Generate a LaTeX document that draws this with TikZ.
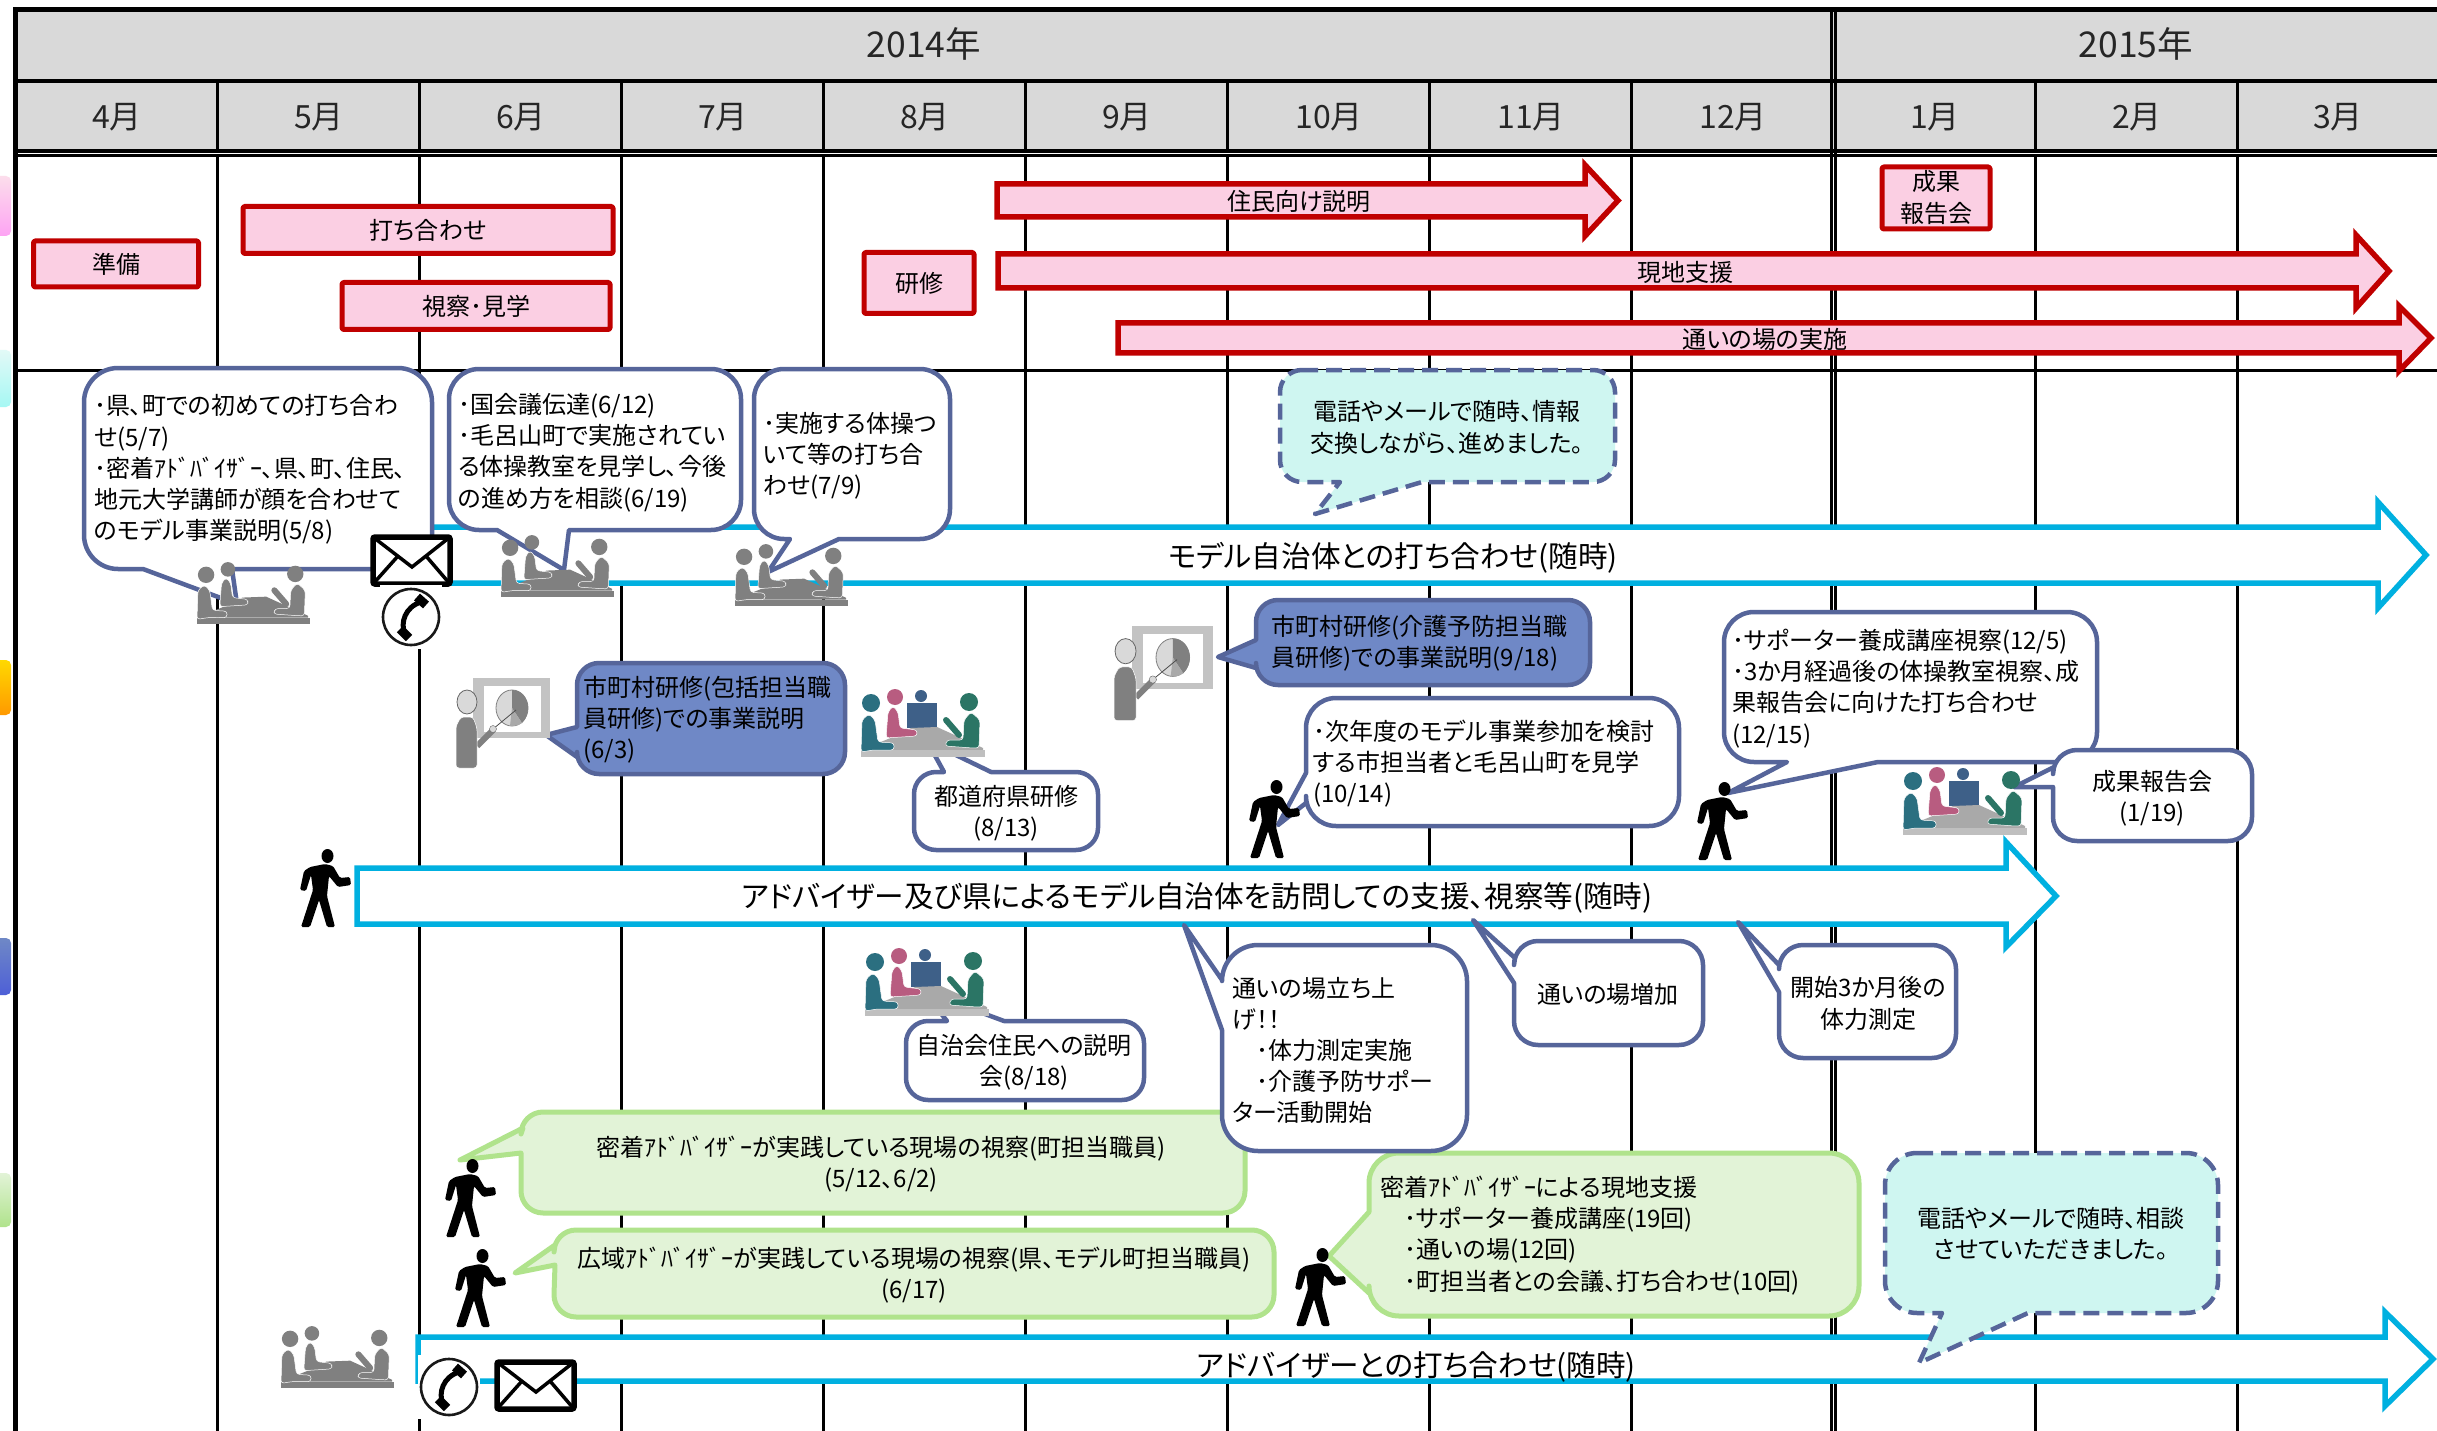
\documentclass[tikz,border=0pt]{standalone}
\usepackage{fontspec}
\setmainfont[RawFeature=+palt]{Noto Sans CJK JP}
\definecolor{crred}{HTML}{C00000}
\definecolor{crpink}{HTML}{FBCFE3}
\definecolor{crcyan}{HTML}{00B0E0}
\definecolor{crblue}{HTML}{56659A}
\definecolor{crfill}{HTML}{6F88C6}
\definecolor{crmint}{HTML}{CFF6F1}
\definecolor{crgreen}{HTML}{B0E38C}
\definecolor{crlime}{HTML}{E2F3D7}
\definecolor{crhead}{HTML}{D9D9D9}
\definecolor{crtext}{HTML}{262626}
\definecolor{mteal}{HTML}{2B6F80}
\definecolor{mpink}{HTML}{B85C80}
\definecolor{mblue}{HTML}{3E6088}
\definecolor{mgreen}{HTML}{2B7565}
\definecolor{mtable}{HTML}{A9A9A9}
\definecolor{mband}{HTML}{BFBFBF}
\definecolor{mgray}{HTML}{808080}
\tikzset{
 gridline/.style={black,line width=3pt},
 headline/.style={black,line width=3.5pt},
 pinkbox/.style={draw=crred,fill=crpink,line width=5pt,line join=round,rounded corners=1.5pt,inner sep=0pt,font=\fontsize{24}{32}\selectfont,text=black,align=center},
 cyanarrow/.style={draw=crcyan,fill=white,line width=5.5pt,line join=miter},
 redarrow/.style={draw=crred,fill=crpink,line width=5.5pt,line join=miter},
 bbox/.style={draw=crblue,fill=white,line width=4.5pt,line join=round},
 fbox/.style={draw=crblue,fill=crfill,line width=4.5pt,line join=round},
 dbox/.style={draw=crblue,fill=crmint,line width=4.5pt,line join=round,dash pattern=on 16pt off 8pt},
 gbox/.style={draw=crgreen,fill=crlime,line width=5pt,line join=round},
 yeartext/.style={font=\fontsize{35.5}{38}\selectfont,text=crtext,inner sep=0pt},
 monthtext/.style={font=\fontsize{32}{34}\selectfont,text=crtext,inner sep=0pt},
 bartext/.style={font=\fontsize{24}{32}\selectfont,text=black,inner sep=0pt,align=center,yshift=-1.5pt},
 arrowtext/.style={font=\fontsize{29.6}{31}\selectfont,text=black,inner sep=0pt,yshift=-1.5pt},
 ltext/.style={font=\fontsize{24}{31.2}\selectfont,text=black,inner sep=0pt,align=left,anchor=west,yshift=-1.5pt},
 ctext/.style={font=\fontsize{24}{31.2}\selectfont,text=black,inner sep=0pt,align=center,yshift=-1.5pt},
 tabshape/.style={rounded corners=5pt,draw=none},
}
\newcommand{\Callout}[9]{%
 \pgfmathsetmacro\xA{#2+\CR}\pgfmathsetmacro\xB{#4-\CR}%
 \pgfmathsetmacro\yA{#3+\CR}\pgfmathsetmacro\yB{#5-\CR}%
 \pgfmathsetmacro\xAc{#2+0.45*\CR}\pgfmathsetmacro\xBc{#4-0.45*\CR}%
 \pgfmathsetmacro\yAc{#3+0.45*\CR}\pgfmathsetmacro\yBc{#5-0.45*\CR}%
 \draw[#1] (\xA,#3) #6 -- (\xB,#3) .. controls (\xBc,#3) and (#4,\yAc) .. (#4,\yA) #7
  -- (#4,\yB) .. controls (#4,\yBc) and (\xBc,#5) .. (\xB,#5) #8
  -- (\xA,#5) .. controls (\xAc,#5) and (#2,\yBc) .. (#2,\yB) #9
  -- (#2,\yA) .. controls (#2,\yAc) and (\xAc,#3) .. (\xA,#3) -- cycle;}
% style, x0, x tip, x base, body top, body bottom, head top, head bottom
\newcommand{\BlockArrow}[8]{%
 \pgfmathsetmacro\yM{(#5+#6)/2}%
 \draw[#1] (#2,#5) -- (#4,#5) -- (#4,#7) -- (#3,\yM) -- (#4,#8) -- (#4,#6) -- (#2,#6) -- cycle;}
\newcommand{\Walker}[2]{%
 \begin{scope}[shift={(#1,#2)}]
 \fill[black] (27.5,7) ellipse [x radius=6,y radius=7];
 \fill[black,rounded corners=1.5pt] (10,18) -- (25,15) -- (33,17) -- (40,29) -- (50,28) -- (51,36) -- (38,38) -- (29,27)
  -- (27,47) -- (35,78) -- (27,78) -- (19,51) -- (10,78) -- (1,78) -- (13,41) -- (11,26) -- (6,42) -- (0,41) -- (4,22) -- cycle;
 \end{scope}}
% x, y, scale, left, pink, mid, right, table, band
\newcommand{\Meeting}[9]{%
 \begin{scope}[shift={(#1,#2)},scale=#3]
 \path[fill=#6] (46,13) rectangle (76,38);
 \path[fill=#6] (60,6) circle [radius=6];
 \fill[#8] (32,47) -- (50,38) -- (76,37) -- (122,58) -- (122,60) -- (0,60) -- cycle;
 \fill[#9] (0,60) rectangle (124,67);
 \fill[#4] (10,13) circle [radius=9];
 \fill[#4,draw=white,line width=.5pt,rounded corners=3pt] (0,62) -- (1,30) -- (8,24) -- (14,30) -- (17,52) -- (33,53) -- (33,60) -- (12,60) -- cycle;
 \fill[#5] (34,7) circle [radius=8];
 \fill[#5,draw=white,line width=.5pt,rounded corners=3pt] (25,48) -- (27,22) -- (32,16) -- (37,22) -- (39,38) -- (56,40) -- (56,46) -- cycle;
 \fill[#7] (108,12) circle [radius=9];
 \fill[#7,draw=white,line width=.5pt,rounded corners=3pt] (118,58) -- (119,30) -- (110,22) -- (103,30) -- (102,50) -- (86,50) -- (84,56) -- (112,58) -- cycle;
 \draw[#7,line width=6pt,line cap=round] (85,30) -- (98,45);
 \end{scope}}
\newcommand{\Presenter}[3]{%
 \begin{scope}[shift={(#1,#2)},scale=#3]
 \fill[crhead!90!black] (17,0) rectangle (94,60);
 \fill[white] (28,8) rectangle (85,54);
 \draw[mgray,fill=crhead,line width=.8pt] (56,30) ellipse [x radius=16,y radius=18];
 \fill[mgray] (56,30) -- (56,12) .. controls (66,12) and (72,21) .. (72,30) .. controls (72,36) and (70,41) .. (66,45) -- cycle;
 \fill[mtable] (56,30) -- (66,45) .. controls (62,48) and (58,48) .. (54,48) -- cycle;
 \draw[black!70,line width=.8pt] (60,32) -- (37,51);
 \draw[mgray,line width=6pt] (21,68) -- (37,52);
 \fill[crhead,draw=black!60] (37,51) circle [radius=3.5];
 \fill[crhead,draw=black!60,line width=.8pt] (11,24) ellipse [x radius=10,y radius=12];
 \fill[mgray,draw=white,line width=.5pt,rounded corners=3pt] (0,90) -- (0,48) -- (5,39) -- (17,39) -- (21,50) -- (21,90) -- cycle;
 \end{scope}}
\newcommand{\Envelope}[2]{%
 \begin{scope}[shift={(#1,#2)}]
 \draw[black,fill=white,line width=5.5pt,rounded corners=2pt] (3,3) rectangle (80,50);
 \draw[black,line width=3.5pt,line join=miter] (3,3) -- (42,33) -- (80,3);
 \draw[black,line width=3.5pt] (3,50) -- (28,22) (80,50) -- (56,22);
 \end{scope}}
\newcommand{\Phone}[2]{%
 \begin{scope}[shift={(#1,#2)}]
 \fill[white] (-31,-32) rectangle (31,32);
 \draw[black!90,line width=2.6pt] (0,0) circle [radius=28];
 \draw[black,line width=5pt] (10,-15) .. controls (-6,-10) and (-11,6) .. (-6,17);
 \draw[black,line width=9pt] (6,-20) -- (15,-12) (-11,12) -- (-2,21);
 \end{scope}}
\begin{document}
\begin{tikzpicture}[x=1pt,y=-1pt]
\useasboundingbox (0,0) rectangle (2437,1431);
\fill[white] (0,0) rectangle (2437,1431);
% side tabs
\shade[tabshape,top color=crpink!70,bottom color=crpink!60!magenta!70] (-8,176) rectangle (11,236);
\shade[tabshape,top color=crmint!60,bottom color=crmint!80!cyan] (-8,350) rectangle (11,407);
\shade[tabshape,top color=yellow!70!orange,bottom color=orange!80!yellow] (-8,660) rectangle (11,715);
\shade[tabshape,top color=crfill,bottom color=crfill!70!blue] (-8,938) rectangle (11,995);
\shade[tabshape,top color=crlime,bottom color=crgreen] (-8,1173) rectangle (11,1227);
% header
\fill[crhead] (15,10) rectangle (2437,151);
\foreach \gx in {217,419,621,823,1025,1227,1429,1631,2035,2237} {
  \draw[gridline] (\gx,81) -- (\gx,151);
  \draw[gridline] (\gx,155) -- (\gx,1431);
}
\draw[gridline] (1831,10) -- (1831,1431);
\draw[gridline] (1835,10) -- (1835,1431);
\draw[black,line width=5pt] (15,8) -- (15,1431);
\draw[black,line width=5pt] (13,9.5) -- (2437,9.5);
\draw[headline] (15,81) -- (2437,81);
\draw[headline] (15,151) -- (2437,151);
\draw[gridline] (15,155.5) -- (2437,155.5);
\draw[gridline] (15,370) -- (2437,370);
\node[yeartext] (y14) at (924,44) {2014年};
\node[yeartext] (y15) at (2136,44) {2015年};
\foreach \mx/\mt in {117/4,319/5,521/6,723/7,925/8,1127/9,1329/10,1531/11,1733/12,1935/1,2137/2,2338/3}
  \node[monthtext] (m\mt) at (\mx,117) {\mt 月};
% pink bars
\node[pinkbox,minimum width=165pt,minimum height=46pt] (prep) at (116,264) {\raisebox{-1.5pt}{準備}};
\node[pinkbox,minimum width=370pt,minimum height=47pt] (meet) at (428,230) {\raisebox{-1.5pt}{打ち合わせ}};
\node[pinkbox,minimum width=268pt,minimum height=47pt] (visit) at (476,306) {\raisebox{-1.5pt}{視察･見学}};
\node[pinkbox,minimum width=110pt,minimum height=61pt] (train) at (919,283) {\raisebox{-1.5pt}{研修}};
\node[pinkbox,minimum width=108pt,minimum height=62pt] (rep) at (1936,198) {成果\\報告会};
\BlockArrow{redarrow}{997}{1618}{1585}{184}{217}{165}{236}
\node[bartext] (ra1) at (1299,200) {住民向け説明};
\BlockArrow{redarrow}{998}{2389}{2356}{254}{288}{235}{308}
\node[bartext] (ra2) at (1685,271) {現地支援};
\BlockArrow{redarrow}{1118}{2431}{2399}{323}{353}{306}{371}
\node[bartext] (ra3) at (1765,338) {通いの場の実施};
% cyan arrows
\BlockArrow{cyanarrow}{388}{2426}{2378}{527}{583}{502}{608}
\node[arrowtext] (ca1) at (1393,556) {モデル自治体との打ち合わせ(随時)};
\BlockArrow{cyanarrow}{357}{2056}{2006}{868}{924}{842}{947}
\node[arrowtext] (ca2) at (1197,896) {アドバイザー及び県によるモデル自治体を訪問しての支援、視察等(随時)};
\BlockArrow{cyanarrow}{418}{2433}{2385}{1337}{1381}{1312}{1406}
\node[arrowtext] (ca3) at (1416,1365) {アドバイザーとの打ち合わせ(随時)};
% callouts
\def\CR{34}
\Callout{bbox}{84}{368}{432}{569}{}{}{-- (232,569) -- (237,604) -- (143,569)}{}
\node[ltext] (ta) at (94,468) {･県、町での初めての打ち合わ\\せ(5/7)\\･密着ｱﾄﾞﾊﾞｲｻﾞｰ、県、町、住民、\\地元大学講師が顔を合わせて\\のモデル事業説明(5/8)};
\def\CR{30}
\Callout{bbox}{449}{369}{741}{530}{}{}{-- (569,530) -- (564,570) -- (497,530)}{}
\node[ltext] (tb) at (458,451) {･国会議伝達(6/12)\\･毛呂山町で実施されてい\\る体操教室を見学し、今後\\の進め方を相談(6/19)};
\Callout{bbox}{754}{369}{950}{539}{}{}{-- (839,539) -- (768,572) -- (790,539)}{}
\node[ltext] (tc) at (763,454) {･実施する体操つ\\いて等の打ち合\\わせ(7/9)};
\def\CR{22}
\Callout{dbox}{1280}{370}{1615}{482}{}{}{-- (1422,482) -- (1315,514) -- (1340,482)}{}
\node[ctext] (td) at (1447,426) {電話やメールで随時、情報\\交換しながら、進めました。};
\Callout{fbox}{577}{663}{845}{774}{}{}{}{-- (577,757) -- (546,735) -- (577,727)}
\node[ltext] (te) at (583,718) {市町村研修(包括担当職\\員研修)での事業説明\\(6/3)};
\Callout{bbox}{914}{772}{1098}{850}{-- (944,772) -- (927,741) -- (991,772)}{}{}{}
\node[ctext] (tf) at (1006,812) {都道府県研修\\(8/13)};
\Callout{fbox}{1256}{600}{1590}{685}{}{}{}{-- (1256,668) -- (1218,657) -- (1256,640)}
\node[ltext] (tg) at (1271,642) {市町村研修(介護予防担当職\\員研修)での事業説明(9/18)};
\def\CR{30}
\Callout{bbox}{1306}{698}{1679}{826}{}{}{}{-- (1306,803) -- (1278,825) -- (1306,773)}
\node[ltext] (th) at (1313,762) {･次年度のモデル事業参加を検討\\する市担当者と毛呂山町を見学\\(10/14)};
\Callout{bbox}{1724}{612}{2097}{762}{}{}{-- (1878,762) -- (1728,793) -- (1787,762)}{}
\node[ltext] (ti) at (1732,687) {･サポーター養成講座視察(12/5)\\･3か月経過後の体操教室視察、成\\果報告会に向けた打ち合わせ\\(12/15)};
\def\CR{24}
\Callout{bbox}{2053}{750}{2252}{841}{}{}{}{-- (2053,787) -- (2014,787) -- (2054,767)}
\node[ctext] (tj) at (2152,797) {成果報告会\\(1/19)};
\Callout{bbox}{1779}{945}{1956}{1058}{}{}{}{-- (1779,992) -- (1738,922) -- (1779,965)}
\node[ctext] (tk) at (1868,1002) {開始3か月後の\\体力測定};
\Callout{bbox}{1514}{941}{1703}{1045}{}{}{}{-- (1514,983) -- (1473,920) -- (1515,958)}
\node[ctext] (tl) at (1608,993) {通いの場増加};
% green callouts
\def\CR{22}
\Callout{gbox}{521}{1112}{1245}{1213}{}{}{}{-- (521,1153) -- (460,1160) -- (523,1128)}
\node[ctext] (to) at (881,1163) {密着ｱﾄﾞﾊﾞｲｻﾞｰが実践している現場の視察(町担当職員)\\(5/12、6/2)};
\Callout{gbox}{554}{1230}{1274}{1317}{}{}{}{-- (555,1265) -- (515,1273) -- (555,1245)}
\node[ctext] (tp) at (914,1274) {広域ｱﾄﾞﾊﾞｲｻﾞｰが実践している現場の視察(県、モデル町担当職員)\\(6/17)};
\def\CR{30}
\Callout{gbox}{1369}{1153}{1859}{1316}{}{}{}{-- (1369,1293) -- (1329,1256) -- (1369,1212)}
\node[ltext] (tq) at (1380,1234) {密着ｱﾄﾞﾊﾞｲｻﾞｰによる現地支援\\　･サポーター養成講座(19回)\\　･通いの場(12回)\\　･町担当者との会議、打ち合わせ(10回)};
\def\CR{36}
\Callout{bbox}{1222}{945}{1467}{1151}{}{}{}{-- (1222,1030) -- (1184,925) -- (1222,980)}
\node[ltext] (tm) at (1232,1049) {通いの場立ち上\\げ！！\\　･体力測定実施\\　･介護予防サポー\\ター活動開始};
\def\CR{22}
\Callout{bbox}{906}{1021}{1144}{1100}{-- (947,1021) -- (923,991) -- (1004,1021)}{}{}{}
\node[ctext] (tn) at (1024,1061) {自治会住民への説明\\会(8/18)};
\def\CR{32}
\Callout{dbox}{1885}{1153}{2218}{1313}{}{}{-- (2028,1313) -- (1919,1363) -- (1942,1313)}{}
\node[ctext] (tr) at (2051,1232) {電話やメールで随時、相談\\させていただきました。};
% pictograms
\Meeting{197}{563}{.91}{mgray}{mgray}{none}{mgray}{mgray}{mgray}
\Meeting{501}{536}{.91}{mgray}{mgray}{none}{mgray}{mgray}{mgray}
\Meeting{735}{545}{.91}{mgray}{mgray}{none}{mgray}{mgray}{mgray}
\Meeting{281}{1327}{.91}{mgray}{mgray}{none}{mgray}{mgray}{mgray}
\Meeting{861}{690}{1}{mteal}{mpink}{mblue}{mgreen}{mtable}{mband}
\Meeting{865}{949}{1}{mteal}{mpink}{mblue}{mgreen}{mtable}{mband}
\Meeting{1903}{768}{1}{mteal}{mpink}{mblue}{mgreen}{mtable}{mband}
\Presenter{456}{678}{1}
\Presenter{1114}{626}{1.05}
\Walker{300}{849}
\Walker{445}{1159}
\Walker{455}{1249}
\Walker{1249}{780}
\Walker{1697}{782}
\Walker{1295}{1248}
\Envelope{370}{534}
\Envelope{494}{1359}
\Phone{411}{617}
\Phone{449}{1387}
\end{tikzpicture}
\end{document}
